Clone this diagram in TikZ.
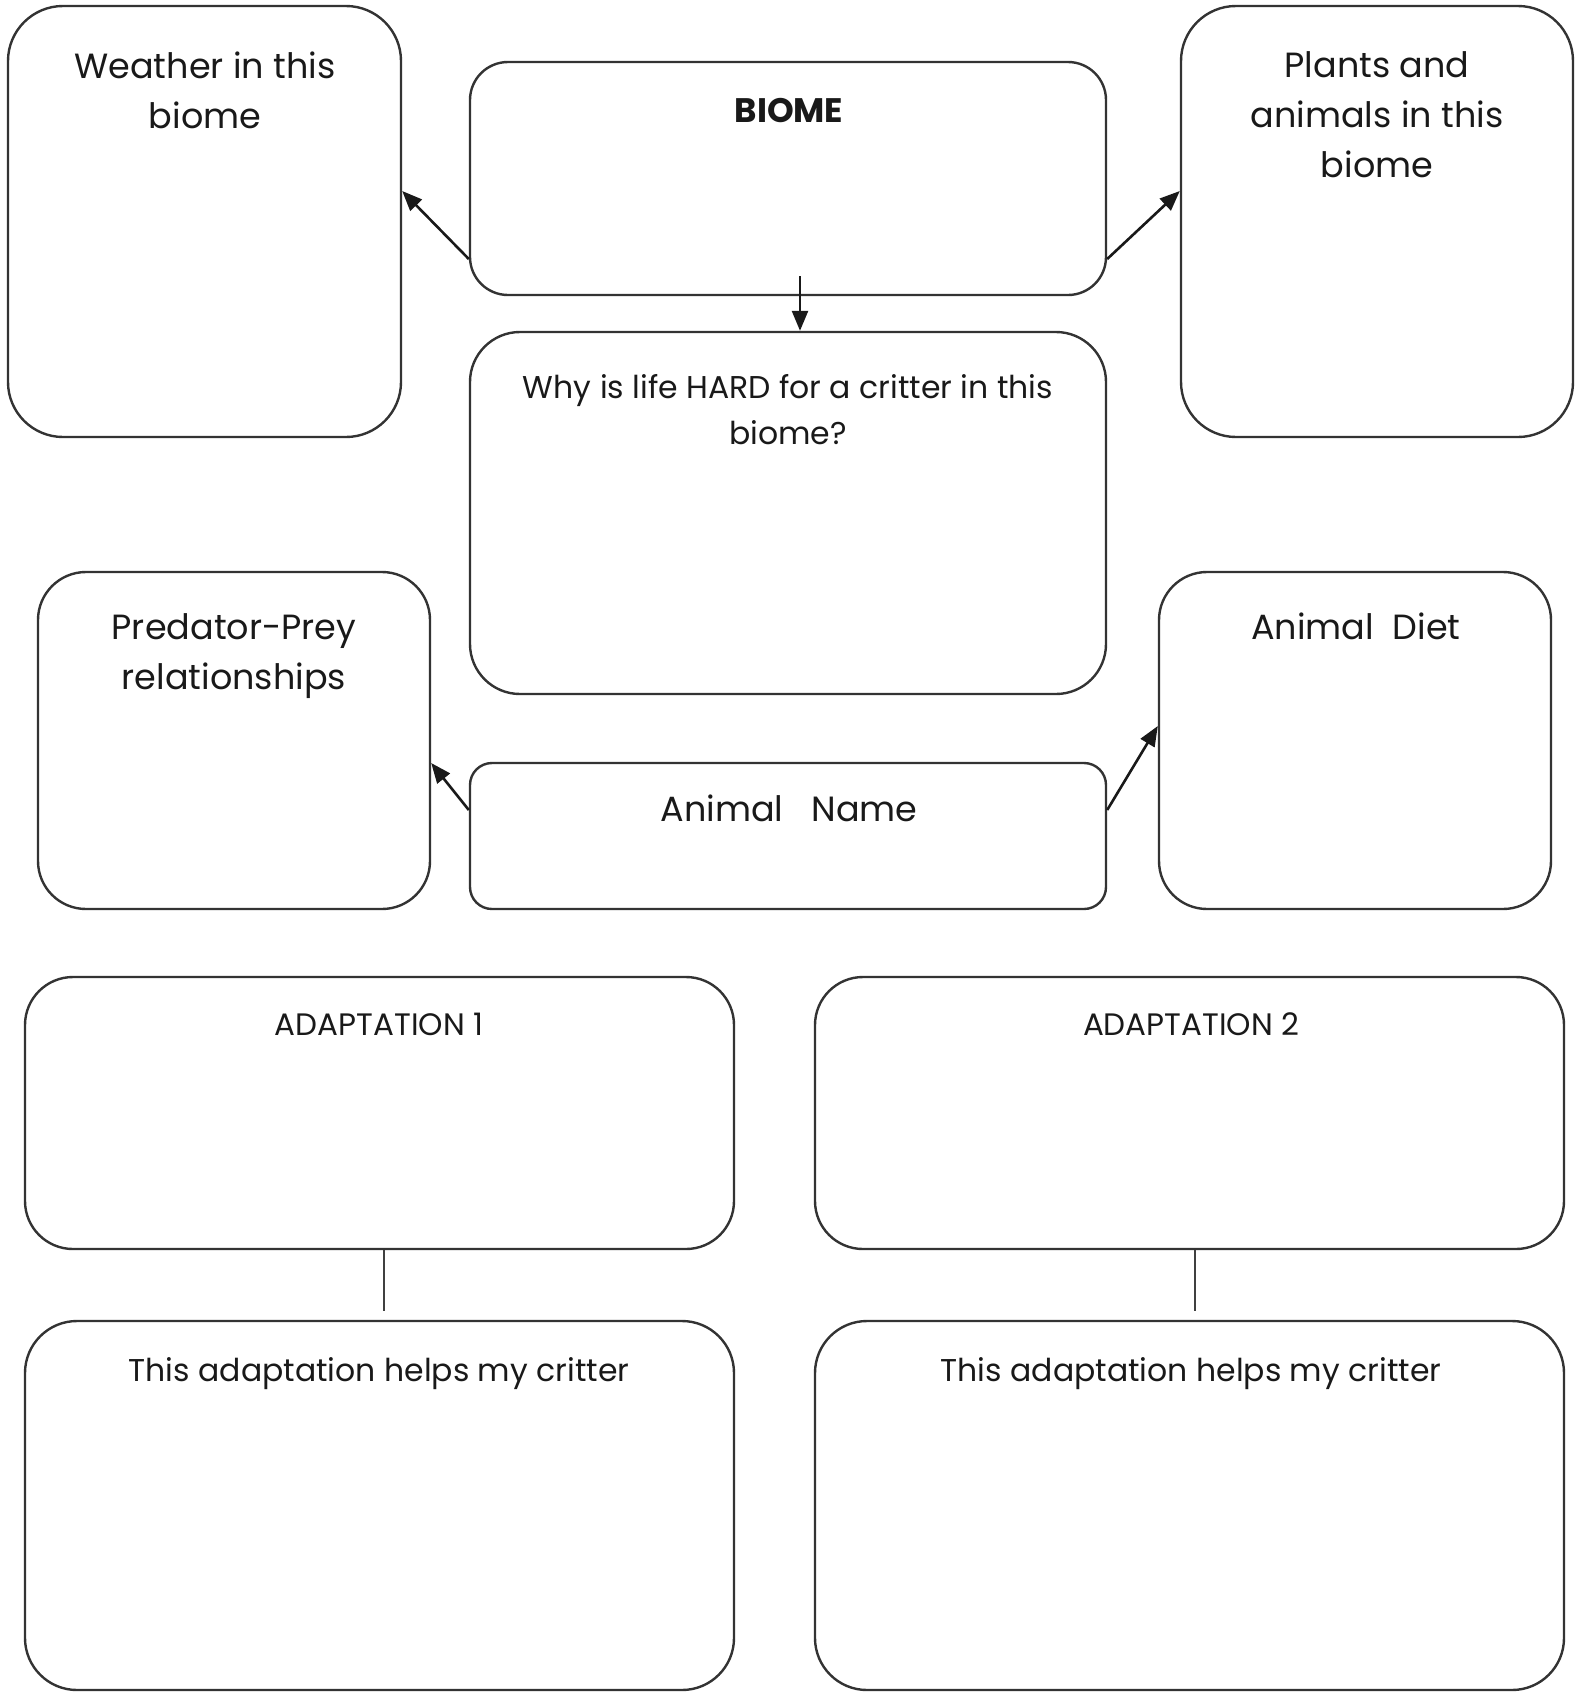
\documentclass[tikz,border=0pt]{standalone}
\usepackage{fontspec}
\setmainfont{Poppins}
\usetikzlibrary{arrows.meta}
\begin{document}
\begin{tikzpicture}[x=1pt,y=-1pt,
  box/.style={draw=black!80,line width=2.4pt,fill=none,inner sep=0pt,rectangle},
  lbl/.style={align=center,inner sep=0pt,text=black!90,font=\fontsize{35}{50}\selectfont},
  smalllbl/.style={align=center,inner sep=0pt,text=black!90,font=\fontsize{31.5}{46}\selectfont},
  arr/.style={draw=black!90,line width=2.6pt,-{Triangle[length=20pt,width=16pt]}},
  link/.style={draw=black!75,line width=2.4pt}]
\useasboundingbox (0,0) rectangle (1577,1692);

% boxes
\node[box,rounded corners=55pt,minimum width=393pt,minimum height=431pt] (weather) at (204.5,221.5) {};
\node[box,rounded corners=38pt,minimum width=636pt,minimum height=233pt] (biome) at (788,178.5) {};
\node[box,rounded corners=55pt,minimum width=392pt,minimum height=431pt] (plants) at (1377,221.5) {};
\node[box,rounded corners=50pt,minimum width=636pt,minimum height=362pt] (why) at (788,513) {};
\node[box,rounded corners=48pt,minimum width=392pt,minimum height=337pt] (pred) at (234,740.5) {};
\node[box,rounded corners=22pt,minimum width=636pt,minimum height=146pt] (animal) at (788,836) {};
\node[box,rounded corners=48pt,minimum width=392pt,minimum height=337pt] (diet) at (1355,740.5) {};
\node[box,rounded corners=48pt,minimum width=709pt,minimum height=272pt] (adapt1) at (379.5,1113) {};
\node[box,rounded corners=48pt,minimum width=749pt,minimum height=272pt] (adapt2) at (1189.5,1113) {};
\node[box,rounded corners=52pt,minimum width=709pt,minimum height=369pt] (helps1) at (379.5,1505.5) {};
\node[box,rounded corners=52pt,minimum width=749pt,minimum height=369pt] (helps2) at (1189.5,1505.5) {};

% texts
\node[lbl] (weathert) at (205,90) {Weather in this\\biome};
\node[lbl,font=\bfseries\fontsize{34}{46}\selectfont] (biomet) at (789,111) {BIOME};
\node[lbl] (plantst) at (1377,115) {Plants and\\animals in this\\biome};
\node[smalllbl] (whyt) at (788,410) {Why is life HARD for a critter in this\\biome?};
\node[lbl] (predt) at (234,656) {Predator-Prey\\relationships};
\node[lbl] (diett) at (1356,626) {Animal\ \ Diet};
\node[lbl] (animalt) at (789,808) {Animal\ \ \ Name};
\node[smalllbl,font=\fontsize{31}{40}\selectfont] (adapt1t) at (379,1024) {ADAPTATION 1};
\node[smalllbl,font=\fontsize{31}{40}\selectfont] (adapt2t) at (1191,1024) {ADAPTATION 2};
\node[smalllbl] (helps1t) at (379,1374) {This adaptation helps my critter};
\node[smalllbl] (helps2t) at (1191,1374) {This adaptation helps my critter};

% connectors
\draw[arr] (biome.west |- 0,259) -- (weather.east |- 0,191);
\draw[arr] (biome.east |- 0,259) -- (plants.west |- 0,191);
\draw[arr] (800,276) -- (why.north -| 800,0);
\draw[arr] (animal.west |- 0,810) -- (pred.east |- 0,763);
\draw[arr] (animal.east |- 0,810) -- (diet.west |- 0,726);
\draw[link] (adapt1.south -| 384,0) -- (384,1311);
\draw[link] (adapt2.south -| 1195,0) -- (1195,1311);
\end{tikzpicture}
\end{document}
